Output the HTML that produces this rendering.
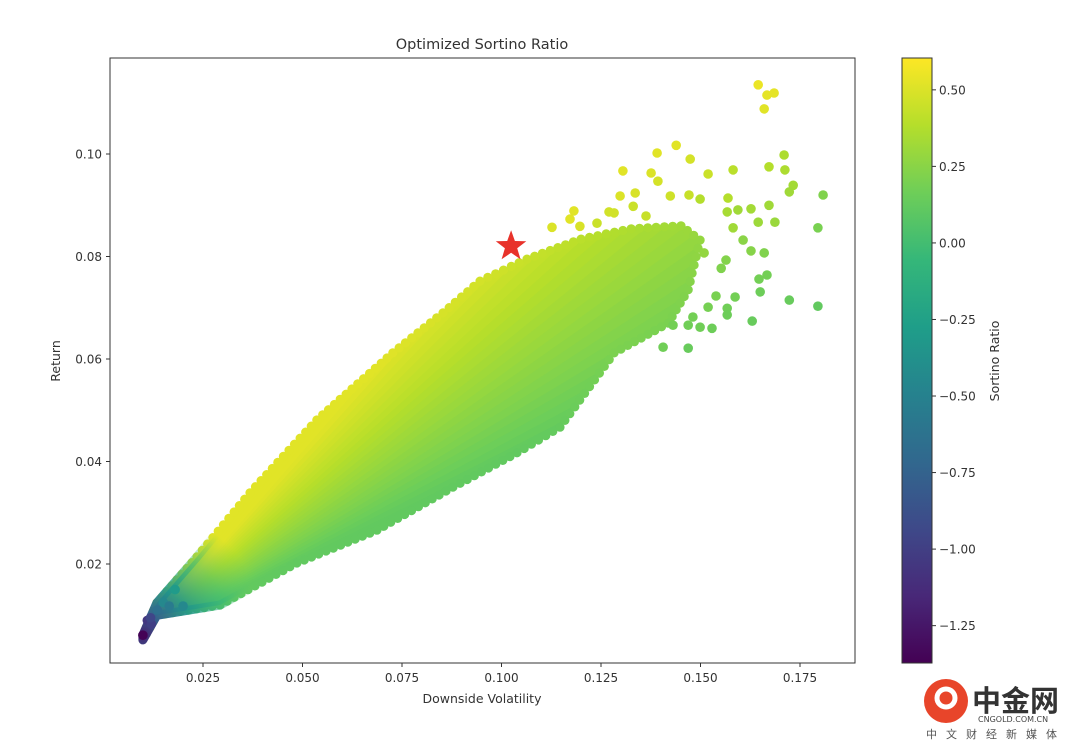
<!DOCTYPE html>
<html><head><meta charset="utf-8">
<style>
body{margin:0;background:#fff;width:1080px;height:751px;overflow:hidden;font-family:"Liberation Sans","DejaVu Sans",sans-serif;}
svg text{font-family:"DejaVu Sans","Liberation Sans",sans-serif;fill:#333;}
</style></head>
<body>
<svg id="chart" width="1080" height="751" xmlns="http://www.w3.org/2000/svg"></svg>
<script>
const xTicks=[0.025,0.050,0.075,0.100,0.125,0.150,0.175];
const xTickLabels=["0.025","0.050","0.075","0.100","0.125","0.150","0.175"];
const yTicks=[0.02,0.04,0.06,0.08,0.10];
const yTickLabels=["0.02","0.04","0.06","0.08","0.10"];
const cTicks=[0.5,0.25,0,-0.25,-0.5,-0.75,-1.0,-1.25];
const cTickLabels=["0.50","0.25","0.00","\u22120.25","\u22120.50","\u22120.75","\u22121.00","\u22121.25"];
// dense cloud envelope (volatility, return)
const cloudVol=[0.0099,0.0134,0.0235,0.0368,0.0536,0.0727,0.0853,0.0946,0.1064,0.1200,0.1326,0.1451,0.1499,0.1469,0.1419,0.1283,0.1147,0.1039,0.0878,0.0687,0.0486,0.0293,0.0134,0.0099];
const cloudRet=[0.0061,0.0124,0.0214,0.0339,0.0481,0.0612,0.0690,0.0752,0.0795,0.0834,0.0854,0.0860,0.0832,0.0735,0.0670,0.0612,0.0467,0.0417,0.0350,0.0266,0.0202,0.0120,0.0100,0.0052];
// individual portfolios
const ptVol=[0.1645,0.1667,0.1685,0.1660,0.1439,0.1391,0.1474,0.1305,0.1376,0.1393,0.1519,0.1582,0.1710,0.1672,0.1712,0.1733,0.1723,0.1808,0.1298,0.1336,0.1424,0.1471,0.1569,0.1672,0.1795,0.1627,0.1687,0.1645,0.1582,0.1607,0.1627,0.1660,0.1509,0.1564,0.1552,0.1667,0.1647,0.1650,0.1723,0.1795,0.1587,0.1539,0.1519,0.1567,0.1567,0.1630,0.1529,0.1499,0.1481,0.1469,0.1469,0.1406,0.1431,0.1127,0.1172,0.1182,0.1197,0.1270,0.1283,0.1331,0.1363,0.1240,0.1567,0.1594,0.1499,
 0.0099,0.0110,0.0120,0.0118,0.0135,0.0150,0.0165,0.0180,0.0200];
const ptRet=[0.1135,0.1115,0.1119,0.1088,0.1017,0.1002,0.0990,0.0967,0.0963,0.0947,0.0961,0.0969,0.0998,0.0975,0.0969,0.0939,0.0926,0.0920,0.0918,0.0924,0.0918,0.0920,0.0914,0.0900,0.0856,0.0893,0.0867,0.0867,0.0856,0.0832,0.0811,0.0807,0.0807,0.0793,0.0777,0.0764,0.0756,0.0731,0.0715,0.0703,0.0721,0.0723,0.0701,0.0699,0.0686,0.0674,0.0660,0.0662,0.0682,0.0621,0.0666,0.0623,0.0666,0.0857,0.0873,0.0889,0.0859,0.0887,0.0885,0.0898,0.0879,0.0865,0.0887,0.0891,0.0912,
 0.0061,0.0090,0.0083,0.0095,0.0110,0.0125,0.0118,0.0150,0.0118];
const ptSort=[0.55,0.53,0.53,0.52,0.52,0.52,0.48,0.52,0.50,0.48,0.45,0.40,0.36,0.38,0.36,0.33,0.32,0.22,0.50,0.49,0.46,0.44,0.38,0.32,0.20,0.33,0.30,0.31,0.32,0.25,0.24,0.22,0.28,0.23,0.22,0.18,0.18,0.16,0.14,0.12,0.18,0.20,0.19,0.17,0.16,0.14,0.16,0.17,0.18,0.14,0.17,0.17,0.18,0.50,0.52,0.52,0.49,0.47,0.47,0.45,0.44,0.45,0.34,0.32,0.38,
 -1.36,-1.05,-1.0,-0.95,-0.65,-0.45,-0.55,-0.3,-0.45];
const starVol=[0.1024], starRet=[0.0820];
// sortino at cloud edges: upper (yellow) and lower (green)
const upperSortino=0.52, lowerSortino=0.12;

const NS="http://www.w3.org/2000/svg";
const svg=document.getElementById('chart');
const PL=110,PR=855,PT=58,PB=663;
const xs=v=>203+(v-0.025)*3980;
const ys=v=>564-(v-0.02)*5125;
const CB={x:902,w:30,t:58,b:663,min:-1.372,max:0.604};
const cy=v=>CB.b-(v-CB.min)/(CB.max-CB.min)*(CB.b-CB.t);
const VIR=["#440154","#482878","#3e4989","#31688e","#26828e","#1f9e89","#35b779","#6ece58","#b5de2b","#fde725"];
function viridis(t){t=Math.max(0,Math.min(1,t));const p=t*9,i=Math.min(8,Math.floor(p)),f=p-i;
 const a=VIR[i],b=VIR[i+1];const h=(s,k)=>parseInt(s.substr(1+2*k,2),16);
 return "rgb("+[0,1,2].map(k=>Math.round(h(a,k)+(h(b,k)-h(a,k))*f)).join(",")+")";}
const cmap=v=>viridis((v-CB.min)/(CB.max-CB.min));
function mk(tag,attrs,parent){const e=document.createElementNS(NS,tag);for(const k in attrs)e.setAttribute(k,attrs[k]);(parent||svg).appendChild(e);return e;}

const FX=xs(cloudVol[0]), FY=ys(cloudRet[0]);
const A_LOW=-26, A_UP=-49;
function angleSort(px,py){const a=Math.atan2(py-FY,px-FX)*180/Math.PI;
 let t=(a-A_LOW)/(A_UP-A_LOW);t=Math.max(0,Math.min(1,t));return lowerSortino+t*(upperSortino-lowerSortino);}

const defs=mk('defs',{});
const clip=mk('clipPath',{id:'cloudClip'},defs);
const pts=cloudVol.map((v,i)=>xs(v).toFixed(1)+","+ys(cloudRet[i]).toFixed(1)).join(" ");
mk('polygon',{points:pts},clip);
const rg=mk('radialGradient',{id:'tealGrad',gradientUnits:'userSpaceOnUse',cx:FX,cy:FY,r:125},defs);
mk('stop',{offset:'0','stop-color':cmap(-1.2),'stop-opacity':'1'},rg);
mk('stop',{offset:'0.15','stop-color':cmap(-0.8),'stop-opacity':'1'},rg);
mk('stop',{offset:'0.4','stop-color':cmap(-0.35),'stop-opacity':'0.9'},rg);
mk('stop',{offset:'0.7','stop-color':cmap(-0.05),'stop-opacity':'0.5'},rg);
mk('stop',{offset:'1','stop-color':cmap(0.15),'stop-opacity':'0'},rg);
const cbg=mk('linearGradient',{id:'cbGrad',x1:0,y1:1,x2:0,y2:0},defs);
VIR.forEach((c,i)=>mk('stop',{offset:(i/9).toString(),'stop-color':c},cbg));

const title=mk('text',{x:482,y:49,'text-anchor':'middle','font-size':'14.5'});
title.textContent="Optimized Sortino Ratio";



const cloudG=mk('g',{'clip-path':'url(#cloudClip)'});


const R=900;
for(let a=-80;a<0;a+=1){
 const r1=a*Math.PI/180,r2=(a+1.3)*Math.PI/180;
 const mx=FX+300*Math.cos((r1+r2)/2),my=FY+300*Math.sin((r1+r2)/2);
 mk('polygon',{points:`${FX},${FY} ${FX+R*Math.cos(r1)},${FY+R*Math.sin(r1)} ${FX+R*Math.cos(r2)},${FY+R*Math.sin(r2)}`,fill:cmap(angleSort(mx,my))},cloudG);
}
const edgeG=mk('g',{});


for(let i=0;i<cloudVol.length-1;i++){
 const x1=xs(cloudVol[i]),y1=ys(cloudRet[i]),x2=xs(cloudVol[i+1]),y2=ys(cloudRet[i+1]);
 const n=Math.max(1,Math.round(Math.hypot(x2-x1,y2-y1)/8));
 for(let k=0;k<n;k++){const px=x1+(x2-x1)*k/n,py=y1+(y2-y1)*k/n;
  mk('circle',{cx:px.toFixed(1),cy:py.toFixed(1),r:4.6,fill:cmap(angleSort(px,py))},edgeG);}
}
const shadeG=mk('g',{});


mk('polygon',{points:pts,fill:'url(#tealGrad)',stroke:'url(#tealGrad)','stroke-width':'9','stroke-linejoin':'round'},shadeG);

ptVol.forEach((v,i)=>{
 const c=mk('circle',{cx:xs(v).toFixed(1),cy:ys(ptRet[i]).toFixed(1),r:4.8,fill:cmap(ptSort[i])});
 
 
});

starVol.forEach((v,i)=>{
 const cx=xs(v),cyy=ys(starRet[i]),RR=16,r=6.5;let p=[];
 for(let k=0;k<10;k++){const a=-Math.PI/2+k*Math.PI/5,rr=k%2?r:RR;p.push((cx+rr*Math.cos(a)).toFixed(1)+","+(cyy+rr*Math.sin(a)).toFixed(1));}
 const s=mk('polygon',{points:p.join(" "),fill:'#e8322a'});
 
 
});

const frame=mk('rect',{x:PL,y:PT,width:PR-PL,height:PB-PT,fill:'none',stroke:'#333','stroke-width':'1'});


xTicks.forEach((t,i)=>{
 const x=xs(t);
 mk('line',{x1:x,x2:x,y1:PB,y2:PB+4,stroke:'#333'});
 const tx=mk('text',{x:x,y:PB+19,'text-anchor':'middle','font-size':'12'});
 tx.textContent=xTickLabels[i];
 
 
});
yTicks.forEach((t,i)=>{
 const y=ys(t);
 mk('line',{x1:PL-4,x2:PL,y1:y,y2:y,stroke:'#333'});
 const tx=mk('text',{x:PL-8,y:y+4.5,'text-anchor':'end','font-size':'12'});
 tx.textContent=yTickLabels[i];
 
 
});
const xl=mk('text',{x:482,y:703,'text-anchor':'middle','font-size':'12.5'});
xl.textContent="Downside Volatility";


const yl=mk('text',{x:0,y:0,'text-anchor':'middle','font-size':'12.5',transform:'translate(60,361) rotate(-90)'});
yl.textContent="Return";



const cb=mk('rect',{x:CB.x,y:CB.t,width:CB.w,height:CB.b-CB.t,fill:'url(#cbGrad)',stroke:'#333','stroke-width':'1'});


cTicks.forEach((t,i)=>{
 const y=cy(t);
 mk('line',{x1:CB.x+CB.w,x2:CB.x+CB.w+4,y1:y,y2:y,stroke:'#333'});
 const tx=mk('text',{x:CB.x+CB.w+7,y:y+4.5,'font-size':'12'});
 tx.textContent=cTickLabels[i];
 
 
});
const cl=mk('text',{x:0,y:0,'text-anchor':'middle','font-size':'12.5',transform:'translate(999,361) rotate(-90)'});
cl.textContent="Sortino Ratio";



const lg=mk('g',{});


mk('circle',{cx:946,cy:701,r:22,fill:'#e8452a'},lg);
mk('circle',{cx:946,cy:698,r:9,fill:'none',stroke:'#fff','stroke-width':'5'},lg);
const l1=mk('text',{x:972,y:711,'font-size':'29','font-weight':'bold',style:'fill:#333;font-family:"Noto Sans CJK SC",sans-serif'},lg);
l1.textContent="中金网";
const l2=mk('text',{x:978,y:722,'font-size':'8',style:'fill:#444'},lg);
l2.textContent="CNGOLD.COM.CN";
const l3=mk('text',{x:926,y:738,'font-size':'11',style:'fill:#555;letter-spacing:9px;font-family:"Noto Sans CJK SC",sans-serif'},lg);
l3.textContent="中文财经新媒体";
</script>
</body></html>
